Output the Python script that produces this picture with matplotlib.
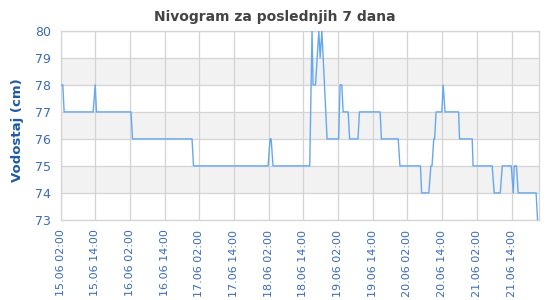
import matplotlib
matplotlib.use("Agg")
import matplotlib.pyplot as plt

# water level readings: hours since 15.06 02:00 and level (cm)
HOURS = [
    0.0, 0.8, 1.25, 11.3, 12.0, 12.45, 24.4, 24.9, 45.5, 46.0,
    71.8, 72.5, 72.85, 73.5, 86.2, 87.0, 87.35, 88.2, 89.35, 89.8,
    90.4, 92.2, 96.2, 96.7, 97.3, 97.75, 99.5, 100.0, 102.9, 103.4,
    110.55, 111.0, 116.8, 117.4, 124.5, 124.9, 127.4, 128.1, 128.5, 129.1,
    129.4, 129.9, 131.9, 132.35, 133.0, 137.7, 138.0, 142.4, 142.7, 149.3,
    150.0, 152.1, 152.8, 155.9, 156.6, 156.95, 157.7, 158.3, 164.5, 165.0,
]
LEVELS = [
    78, 78, 77, 77, 78, 77, 77, 76, 76, 75,
    75, 76, 76, 75, 75, 80, 78, 78, 80, 79,
    80, 76, 76, 78, 78, 77, 77, 76, 76, 77,
    77, 76, 76, 75, 75, 74, 74, 75, 75, 76,
    76, 77, 77, 78, 77, 77, 76, 76, 75, 75,
    74, 74, 75, 75, 74, 75, 75, 74, 74, 73,
]
TICK_HOURS = list(range(0, 157, 12))
TICK_LABELS = [
    "15.06 02:00", "15.06 14:00", "16.06 02:00", "16.06 14:00",
    "17.06 02:00", "17.06 14:00", "18.06 02:00", "18.06 14:00",
    "19.06 02:00", "19.06 14:00", "20.06 02:00", "20.06 14:00",
    "21.06 02:00", "21.06 14:00",
]
Y_TICKS = list(range(73, 81))

LABEL_BLUE = "#3a6bb0"
GRID = "#d4d4d4"

fig = plt.figure(figsize=(5.5, 3.0), dpi=100)
ax = fig.add_axes([0.110, 0.267, 0.870, 0.630])

# alternating bands
for lo in (74, 76, 78):
    ax.axhspan(lo, lo + 1, color="#f2f2f2", lw=0, zorder=0)

ax.plot(HOURS, LEVELS, color="#65a8f0", lw=1.0, zorder=3)

ax.set_xlim(0, 165.5)
ax.set_ylim(73, 80)
ax.set_xticks(TICK_HOURS)
ax.set_xticklabels(TICK_LABELS, rotation=90, fontsize=8, color=LABEL_BLUE)
ax.set_yticks(Y_TICKS)
ax.set_yticklabels([str(v) for v in Y_TICKS], fontsize=9, color=LABEL_BLUE)
ax.tick_params(axis="x", length=0, pad=7)
ax.tick_params(axis="y", length=0, pad=7)
ax.grid(True, color=GRID, lw=0.9, zorder=1)
ax.set_axisbelow(True)
for side in ax.spines.values():
    side.set_color(GRID)
    side.set_linewidth(0.9)

fig.text(0.032, 0.567, "Vodostaj (cm)", rotation=90, ha="center", va="center",
         fontsize=9.5, fontweight="bold", color="#1f5aa6")
fig.text(0.5, 0.943, "Nivogram za poslednjih 7 dana", ha="center", va="center",
         fontsize=10, fontweight="bold", color="#444444")

fig.savefig("out.png", dpi=100)
